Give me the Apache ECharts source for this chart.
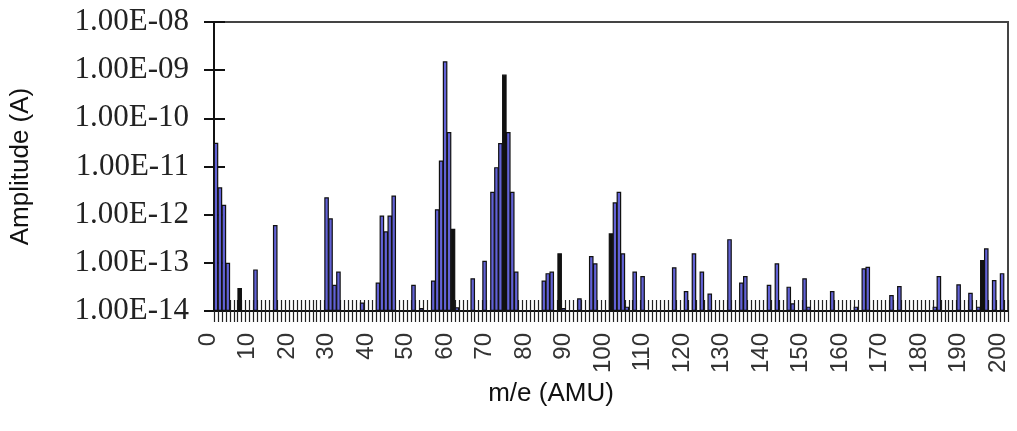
<!DOCTYPE html>
<html>
<head>
<meta charset="utf-8">
<script src="https://cdn.jsdelivr.net/npm/echarts@6/dist/echarts.min.js"></script>
<style>
html, body { margin: 0; padding: 0; background: #fff; }
#chart { width: 1017px; height: 431px; }
</style>
</head>
<body>
<div id="chart"></div>
<script>
// amplitude (A) for m/e 0..200 (null = no bar)
var amps = [
  3.1e-11, 3.7e-12, 1.6e-12, 1.0e-13, null, null, 3.0e-14, null, null, null,              // 0-9
  7.3e-14, null, null, null, null, 6.1e-13, null, null, null, null,                       // 10-19
  null, null, null, null, null, null, null, null, 2.3e-12, 8.4e-13,                       // 20-29
  3.5e-14, 6.6e-14, null, null, null, null, null, 1.5e-14, null, null,                    // 30-39
  null, 3.9e-14, 9.6e-13, 4.5e-13, 9.6e-13, 2.5e-12, null, null, null, null,              // 40-49
  3.5e-14, null, 1.15e-14, null, null, 4.3e-14, 1.3e-12, 1.33e-11, 1.53e-9, 5.2e-11,      // 50-59
  5.1e-13, 1.2e-14, null, null, null, 4.8e-14, null, null, 1.1e-13, null,                 // 60-69
  3.0e-12, 9.7e-12, 3.06e-11, 8.1e-10, 5.2e-11, 3.0e-12, 6.6e-14, null, null, null,       // 70-79
  null, null, null, 4.3e-14, 6.1e-14, 6.6e-14, null, 1.58e-13, 1.15e-14, null,            // 80-89
  null, null, 1.83e-14, null, null, 1.39e-13, 9.8e-14, null, null, null,                  // 90-99
  4.1e-13, 1.8e-12, 3.0e-12, 1.58e-13, 1.23e-14, null, 6.6e-14, null, 5.3e-14, null,      // 100-109
  null, null, null, null, null, null, 8.1e-14, null, null, 2.6e-14,                       // 110-119
  null, 1.58e-13, null, 6.6e-14, null, 2.3e-14, null, null, null, null,                   // 120-129
  3.1e-13, null, null, 3.9e-14, 5.3e-14, null, null, null, null, null,                    // 130-139
  3.5e-14, null, 9.8e-14, null, null, 3.2e-14, 1.45e-14, null, null, 4.8e-14,             // 140-149
  1.23e-14, null, null, null, null, null, 2.6e-14, null, null, null,                      // 150-159
  null, null, 1.23e-14, null, 7.7e-14, 8.3e-14, null, null, null, null,                   // 160-169
  null, 2.15e-14, null, 3.3e-14, null, null, null, null, null, null,                      // 170-179
  null, null, 1.23e-14, 5.3e-14, null, null, null, null, 3.6e-14, null,                   // 180-189
  null, 2.4e-14, null, 1.23e-14, 1.15e-13, 2.0e-13, null, 4.4e-14, null, 6.1e-14,         // 190-199
  null                                                                                    // 200
];

// bars that come out as solid black lines in the original
var darkBars = [6, 60, 73, 87, 100, 194];

var masses = [];
for (var i = 0; i <= 200; i++) masses.push(String(i));

// the axis floor is 1E-14; bars are drawn as decades above that floor
var FLOOR_EXP = -14, TOP_EXP = -8;

function expLabel(d) {
  var e = Math.round(d + FLOOR_EXP);
  var a = Math.abs(e);
  return '1.00E' + (e < 0 ? '-' : '+') + (a < 10 ? '0' : '') + a;
}

var barData = amps.map(function (v, i) {
  var d = v == null ? null : Math.log10(v) - FLOOR_EXP;
  if (darkBars.indexOf(i) >= 0) return { value: d, itemStyle: { color: '#111' } };
  return d;
});

var chart = echarts.init(document.getElementById('chart'));
chart.setOption({
  animation: false,
  grid: {
    left: 213, top: 22, width: 795, height: 289,
    show: true, borderColor: '#444', borderWidth: 2
  },
  xAxis: [
    {
      type: 'category',
      data: masses,
      boundaryGap: true,
      axisLine: { lineStyle: { color: '#111', width: 2 } },
      axisTick: { show: true, interval: 0, length: 11, lineStyle: { color: '#222', width: 1.2 } },
      axisLabel: {
        interval: 9, rotate: 90, margin: 22,
        fontFamily: 'Liberation Sans', fontSize: 24, color: '#333',
        verticalAlign: 'bottom', lineHeight: 16
      },
      name: 'm/e (AMU)',
      nameLocation: 'middle',
      nameGap: 66,
      nameTextStyle: {
        fontFamily: 'Liberation Sans', fontSize: 26, color: '#111',
        padding: [0, 120, 0, 0]
      }
    },
    {
      // upper half of the cross ticks
      type: 'category',
      data: masses,
      boundaryGap: true,
      position: 'bottom',
      axisLine: { show: false },
      axisTick: { show: true, inside: true, interval: 0, length: 11, lineStyle: { color: '#222', width: 1.2 } },
      axisLabel: { show: false }
    }
  ],
  yAxis: [
    {
      type: 'value', min: 0, max: TOP_EXP - FLOOR_EXP, interval: 1,
      axisLine: { show: true, lineStyle: { color: '#111', width: 2 } },
      axisTick: { show: true, length: 10, lineStyle: { color: '#111', width: 2 } },
      axisLabel: {
        margin: 25, fontFamily: 'Liberation Serif', fontSize: 31, color: '#222',
        formatter: expLabel
      },
      splitLine: { show: false },
      name: 'Amplitude (A)',
      nameLocation: 'middle',
      nameGap: 180,
      nameTextStyle: { fontFamily: 'Liberation Sans', fontSize: 26, color: '#111' }
    },
    {
      // inner half of the cross ticks
      type: 'value', min: 0, max: TOP_EXP - FLOOR_EXP, interval: 1,
      position: 'left',
      axisLine: { show: false },
      axisTick: { show: true, inside: true, length: 11, lineStyle: { color: '#111', width: 2 } },
      axisLabel: { show: false },
      splitLine: { show: false }
    }
  ],
  series: [
    {
      type: 'bar',
      data: barData,
      barWidth: 4.6,
      itemStyle: { color: '#6262d6', borderColor: '#111', borderWidth: 1.2 },
      silent: true
    }
  ]
});
</script>
</body>
</html>
